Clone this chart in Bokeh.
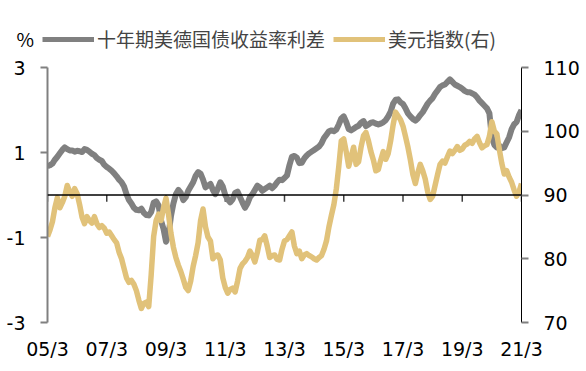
from bokeh.plotting import figure
from bokeh.layouts import column
from bokeh.models import (Range1d, LinearAxis, FixedTicker, Span, Legend, LegendItem,
                          ColumnDataSource)
from bokeh.core.properties import value
from bokeh.embed import file_html
from bokeh.resources import INLINE

# ---- data (monthly, starting 2005-03) ----
spread = [
    0.68, 0.70, 0.74, 0.83, 0.90, 0.98, 1.06, 1.12, 1.08, 1.05, 1.05, 1.02,
    1.04, 1.03, 1.01, 1.08, 1.06, 1.02, 0.97, 0.94, 0.87, 0.83, 0.80, 0.71,
    0.66, 0.62, 0.57, 0.51, 0.44, 0.36, 0.30, 0.20, 0.02, -0.12, -0.20, -0.30,
    -0.35, -0.36, -0.32, -0.42, -0.47, -0.48, -0.40, -0.18, -0.15, -0.25, -0.60, -0.80,
    -1.10, -0.95, -0.50, -0.20, 0.02, 0.12, 0.05, -0.12, -0.05, 0.10, 0.20, 0.30,
    0.45, 0.54, 0.50, 0.36, 0.18, 0.22, 0.26, 0.12, 0.02, 0.15, 0.30, 0.20,
    0.00, -0.10, -0.17, -0.10, 0.05, 0.08, -0.05, -0.18, -0.30, -0.20, -0.05, 0.02,
    0.12, 0.22, 0.18, 0.10, 0.14, 0.18, 0.22, 0.16, 0.22, 0.30, 0.36, 0.35,
    0.40, 0.46, 0.70, 0.90, 0.92, 0.88, 0.75, 0.76, 0.86, 0.93, 0.98, 1.02,
    1.06, 1.10, 1.14, 1.22, 1.34, 1.42, 1.50, 1.52, 1.50, 1.54, 1.66, 1.80,
    1.85, 1.72, 1.55, 1.52, 1.56, 1.60, 1.63, 1.70, 1.74, 1.62, 1.66, 1.70,
    1.71, 1.68, 1.66, 1.68, 1.71, 1.76, 1.85, 1.96, 2.15, 2.24, 2.25, 2.18,
    2.14, 2.04, 1.92, 1.85, 1.79, 1.75, 1.80, 1.88, 1.95, 2.05, 2.15, 2.22,
    2.28, 2.38, 2.46, 2.54, 2.58, 2.60, 2.66, 2.72, 2.66, 2.60, 2.57, 2.54,
    2.50, 2.45, 2.42, 2.42, 2.39, 2.36, 2.30, 2.22, 2.16, 2.10, 2.04, 1.92,
    1.35, 1.18, 1.12, 1.16, 1.10, 1.12, 1.24, 1.36, 1.55, 1.66, 1.72, 1.88,
    2.00,
]
dxy = [
    83.5, 84.5, 85.8, 88.0, 89.6, 88.0, 88.8, 89.8, 91.5, 90.5, 89.8, 91.0,
    90.2, 88.5, 86.5, 85.5, 86.6, 86.0, 85.6, 86.6, 85.5, 84.9, 85.2, 84.8,
    84.0, 84.2, 83.6, 83.0, 82.5, 81.0, 80.0, 78.5, 77.0, 76.3, 76.6, 76.0,
    75.0, 73.5, 72.2, 73.0, 73.2, 72.5, 77.5, 83.5, 86.0, 87.0, 86.0, 88.0,
    89.5, 87.0, 84.0, 81.8, 80.2, 79.0, 78.0, 76.8, 75.5, 75.0, 76.5, 78.8,
    80.5, 82.5, 86.0, 87.8, 85.0, 83.4, 82.8, 80.0, 80.5, 80.6, 79.8, 77.0,
    75.5, 74.6, 75.2, 75.4, 74.8, 76.5, 78.5, 79.2, 79.6, 80.2, 81.2, 80.5,
    79.5, 81.0, 82.9, 83.0, 83.6, 82.0, 80.2, 80.5, 80.6, 79.9, 79.8, 81.5,
    82.8, 83.0, 83.6, 84.2, 82.0, 80.8, 81.2, 80.0, 80.6, 80.8, 80.5, 80.3,
    80.0, 79.8, 80.2, 80.5, 81.5, 82.8, 85.0, 86.8, 88.5, 91.0, 94.5, 98.5,
    98.8, 96.8, 94.5, 96.0, 97.5, 94.8, 95.2, 97.5, 99.3, 99.8, 98.5, 96.8,
    95.5, 93.8, 94.0, 95.5, 96.8, 95.6, 96.5, 98.5, 101.0, 103.0, 102.4, 101.8,
    100.8, 99.2, 97.5, 95.5, 93.2, 91.8, 93.5, 94.8, 93.8, 92.5, 90.5, 89.3,
    89.8, 91.5, 93.2, 94.8, 95.3, 95.0, 96.0, 96.9, 96.5, 97.0, 97.6, 97.0,
    97.2, 97.8, 98.0, 98.4, 98.1, 98.8, 99.2, 98.2, 97.4, 97.7, 97.9, 99.2,
    101.5, 100.0, 99.6, 97.2, 95.0, 93.3, 93.8, 92.8, 92.0, 90.8, 89.8, 90.5,
    91.8,
]
months = list(range(len(spread)))
x_ticks = [0, 24, 48, 72, 96, 120, 144, 168, 192]
x_labels = ["05/3", "07/3", "09/3", "11/3", "13/3", "15/3", "17/3", "19/3", "21/3"]
left_ticks = [-3, -1, 1, 3]
left_labels = ["-3", "-1", "1", "3"]
right_ticks = [70, 80, 90, 100, 110]
unit_label = "%"
name_spread = "十年期美德国债收益率利差"
name_dxy = "美元指数(右)"

GRAY = "#808080"
GOLD = "#E1C27A"
LAT = "DejaVu Sans"
CJK = "Noto Sans CJK SC"
W = 586
LEG_H = 55


def no_align(fig):
    try:
        fig.frame_align = False
    except Exception:
        pass


# ---------------- legend strip ----------------
lg = figure(width=W, height=LEG_H, output_backend="svg", toolbar_location=None,
            x_range=Range1d(0, W), y_range=Range1d(0, LEG_H),
            x_axis_location=None, y_axis_location=None,
            min_border=0, min_border_left=0, min_border_right=0,
            min_border_top=0, min_border_bottom=0)
no_align(lg)
lg.outline_line_color = None
lg.grid.visible = False
lg.text(x=[16], y=[17], text=[unit_label], text_baseline="middle", text_align="left",
        text_font=value(CJK), text_font_size="19px", text_color="black")
nan = float("nan")
d1 = lg.line(x=[nan], y=[nan], line_color=GRAY, line_width=5)
d2 = lg.line(x=[nan], y=[nan], line_color=GOLD, line_width=5)
leg = Legend(items=[LegendItem(label=name_spread, renderers=[d1]),
                    LegendItem(label=name_dxy, renderers=[d2])],
             orientation="horizontal", location=(42, 3),
             glyph_width=52, glyph_height=20, label_standoff=3, spacing=8,
             padding=0, margin=0, border_line_color=None, background_fill_alpha=0,
             label_text_font=CJK, label_text_font_size="19px", label_height=20)
lg.add_layout(leg, "center")

# ---------------- main chart ----------------
p = figure(width=W, height=371 - LEG_H, output_backend="svg", toolbar_location=None,
           x_range=Range1d(0, 192), y_range=Range1d(-3, 3),
           min_border_left=47, min_border_right=65, min_border_top=12, min_border_bottom=49)
no_align(p)
p.outline_line_color = None
p.grid.visible = False
p.background_fill_color = "white"
p.border_fill_color = "white"
p.extra_y_ranges = {"dxy": Range1d(70, 110)}

xa = p.xaxis[0]
xa.ticker = FixedTicker(ticks=x_ticks)
xa.major_label_overrides = {t: l for t, l in zip(x_ticks, x_labels)}
xa.axis_line_color = None
xa.major_tick_line_color = None
xa.major_tick_out = 0
xa.major_tick_in = 0
xa.minor_tick_line_color = None
xa.major_label_standoff = 15
xa.major_label_text_font = LAT
xa.major_label_text_font_size = "19px"
xa.major_label_text_color = "black"

ya = p.yaxis[0]
ya.ticker = FixedTicker(ticks=left_ticks)
ya.major_label_overrides = {t: l for t, l in zip(left_ticks, left_labels)}
ya.axis_line_color = GRAY
ya.axis_line_width = 2
ya.major_tick_line_color = GRAY
ya.major_tick_line_width = 2
ya.major_tick_out = 7
ya.major_tick_in = 0
ya.minor_tick_line_color = None
ya.major_label_standoff = 15
ya.major_label_text_font = LAT
ya.major_label_text_font_size = "19px"
ya.major_label_text_color = "black"

ra = LinearAxis(y_range_name="dxy", ticker=FixedTicker(ticks=right_ticks))
ra.axis_line_color = "black"
ra.axis_line_width = 1
ra.major_tick_line_color = GRAY
ra.major_tick_line_width = 2
ra.major_tick_out = 7
ra.major_tick_in = 0
ra.minor_tick_line_color = None
ra.major_label_standoff = 15
ra.major_label_text_font = LAT
ra.major_label_text_font_size = "19px"
ra.major_label_text_color = "black"
p.add_layout(ra, "right")

p.add_layout(Span(location=0, dimension="width", line_color="black", line_width=1.5))
p.segment(x0=x_ticks, y0=[0] * len(x_ticks), x1=x_ticks, y1=[-0.16] * len(x_ticks),
          line_color="#404040", line_width=1.5)

src = ColumnDataSource(dict(m=months, spread=spread, dxy=dxy))
p.line("m", "spread", source=src, line_color=GRAY, line_width=6, line_join="round")
p.line("m", "dxy", source=src, y_range_name="dxy", line_color=GOLD, line_width=5.5,
       line_join="round")

layout = column(lg, p, spacing=0)
open("out.html", "w").write(file_html(layout, INLINE))
